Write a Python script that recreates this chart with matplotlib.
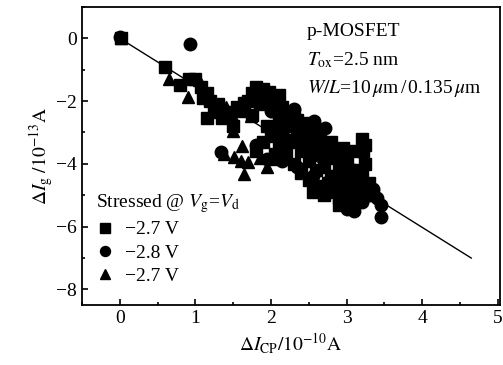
import numpy as np
import matplotlib
matplotlib.use("Agg")
import matplotlib.pyplot as plt
from matplotlib.ticker import MultipleLocator

plt.rcParams['font.family'] = ['Liberation Serif', 'DejaVu Serif']
plt.rcParams['mathtext.fontset'] = 'stix'

# series (x in 1e-10 A, y in 1e-13 A)
sq_x = [0.02, 0.60, 0.80, 0.92, 1.00, 1.08, 1.15, 1.20, 1.30, 1.25, 1.15, 1.35, 1.45, 1.50,
        1.55, 1.65, 1.75, 1.80, 1.90, 1.97, 1.75, 1.85, 2.00, 2.05, 2.10, 2.15, 2.20, 2.25,
        2.30, 2.35, 2.40, 2.45, 2.50, 2.55, 2.60, 2.65, 2.70, 2.75, 2.80, 2.85, 2.90, 2.95,
        3.00, 3.05, 3.10, 3.20, 3.22, 3.25, 3.20, 3.15, 3.10, 3.00, 2.90, 2.85, 2.75, 2.60,
        2.55, 2.50, 2.40, 2.30, 2.20, 2.10, 2.00, 1.95, 2.05, 2.25, 2.40, 2.50, 2.60, 2.70,
        2.80, 2.95, 3.05, 3.30, 3.35, 1.80, 1.90, 1.40, 1.60, 1.70, 1.85, 2.10, 2.35, 2.55,
        2.65, 2.80, 2.95, 3.15, 3.25, 3.05, 2.90, 2.70, 2.45, 2.15, 1.10]
sq_y = [0.02, -0.92, -1.50, -1.29, -1.30, -1.55, -1.75, -2.00, -2.10, -2.35, -2.55, -2.55,
        -2.35, -2.80, -2.20, -2.05, -1.75, -1.55, -1.60, -1.70, -2.45, -2.10, -2.00, -2.30,
        -2.60, -2.20, -2.50, -2.80, -2.40, -2.90, -3.20, -2.70, -3.00, -3.30, -3.60, -3.10,
        -3.40, -3.80, -3.30, -3.60, -4.00, -3.50, -3.80, -4.20, -3.60, -3.20, -3.60, -4.00,
        -4.40, -4.80, -5.10, -5.30, -5.30, -4.90, -4.60, -4.70, -4.90, -4.50, -4.30, -4.00,
        -3.70, -3.40, -3.10, -2.80, -3.70, -3.30, -3.60, -3.90, -4.20, -4.10, -4.40, -4.60,
        -4.90, -4.60, -5.00, -3.60, -3.30, -2.45, -2.30, -2.00, -1.85, -1.80, -2.60, -2.75,
        -3.70, -4.80, -4.20, -4.20, -3.40, -4.50, -5.10, -5.00, -3.50, -3.00, -1.90]

ci_x = [0.00, 0.93, 1.34, 2.57, 2.72, 2.30, 2.00, 1.80, 1.95, 2.15, 2.35, 2.55, 2.45, 3.00,
        3.10, 3.20, 3.30, 3.40, 3.45, 3.45, 3.35, 3.20, 2.90, 2.10, 2.20]
ci_y = [0.05, -0.19, -3.63, -2.62, -2.85, -2.25, -2.30, -3.40, -3.85, -3.90, -4.10, -4.40,
        -3.00, -5.45, -5.50, -5.20, -5.00, -5.10, -5.30, -5.70, -4.80, -4.60, -5.00, -2.90,
        -3.20]

tr_x = [0.02, 0.65, 0.90, 1.05, 1.12, 1.20, 1.40, 1.50, 1.38, 1.62, 1.51, 1.64, 1.95, 1.70,
        1.60, 1.73, 2.72, 2.60, 2.05, 1.85, 1.50]
tr_y = [0.00, -1.29, -1.87, -1.34, -1.60, -1.80, -2.20, -2.50, -3.68, -3.42, -3.79, -4.32,
        -4.11, -3.95, -3.90, -2.46, -4.59, -4.65, -3.85, -3.80, -2.95]

fit_x = [0.0, 4.65]
fit_y = [0.0, -7.0]

fig = plt.figure(figsize=(5.03, 3.65), dpi=100)
ax = fig.add_axes([0.163, 0.164, 0.831, 0.817])

ax.plot(fit_x, fit_y, color='black', lw=1.0, zorder=1)
h1, = ax.plot(sq_x, sq_y, 's', color='black', ms=8.5, ls='none', zorder=2)
h2, = ax.plot(ci_x, ci_y, 'o', color='black', ms=9, ls='none', zorder=2)
h3, = ax.plot(tr_x, tr_y, '^', color='black', ms=9, ls='none', zorder=2)

ax.set_xlim(-0.5, 5.03)
ax.set_ylim(-8.5, 1.0)
ax.xaxis.set_major_locator(MultipleLocator(1))
ax.xaxis.set_minor_locator(MultipleLocator(0.5))
ax.yaxis.set_major_locator(MultipleLocator(2))
ax.yaxis.set_minor_locator(MultipleLocator(1))
ax.tick_params(which='both', direction='in', labelsize=14, width=1.2)
ax.tick_params(which='major', length=4)
ax.tick_params(which='minor', length=2.5)
for s in ax.spines.values():
    s.set_linewidth(1.3)
ax.set_yticks([0, -2, -4, -6, -8])
ax.set_yticklabels(['0', '\u22122', '\u22124', '\u22126', '\u22128'])
ax.set_xticks([0, 1, 2, 3, 4, 5])

ax.set_xlabel(r'$\Delta I_{\mathrm{CP}}/10^{-10}\mathrm{A}$', fontsize=14, labelpad=3)
ax.set_ylabel(r'$\Delta I_{\mathrm{g}}\ /10^{-13}\mathrm{A}$', fontsize=14, labelpad=1)

ax.text(0.538, 0.916, 'p-MOSFET', transform=ax.transAxes, fontsize=14, va='center')
ax.text(0.538, 0.822, r'$T_{\mathrm{ox}}$=2.5 nm', transform=ax.transAxes, fontsize=14, va='center')
ax.text(0.538, 0.725, r'$W/L$=10$\,\mu$m$\,$/$\,$0.135$\,\mu$m', transform=ax.transAxes,
        fontsize=14, va='center')

leg = ax.legend([h1, h2, h3], ['\u22122.7 V', '\u22122.8 V', '\u22122.7 V'],
                title=r'Stressed @ $V_{\mathrm{g}}$=$V_{\mathrm{d}}$',
                loc='upper left', bbox_to_anchor=(0.0, 0.425), frameon=False,
                fontsize=14, title_fontsize=14, handlelength=1.0, handletextpad=0.5,
                labelspacing=0.3, borderaxespad=0.3, markerscale=0.8)
leg._legend_box.align = 'left'

fig.savefig('out.png', dpi=100)
